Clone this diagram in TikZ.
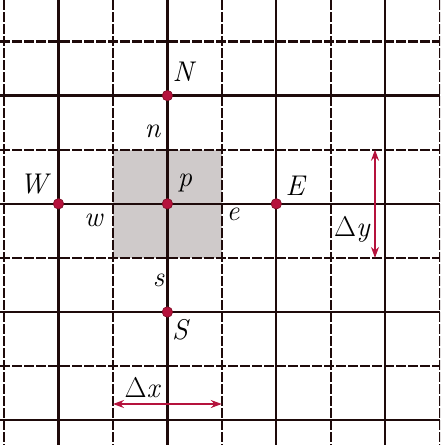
\documentclass[tikz,border=0pt]{standalone}
\usetikzlibrary{arrows.meta}
\definecolor{gridc}{HTML}{1E0A0A}
\definecolor{redc}{HTML}{B5123C}
\definecolor{reddark}{HTML}{7A0A22}
\definecolor{cellc}{HTML}{CFCACA}
\begin{document}
\begin{tikzpicture}[x=1pt,y=-1pt,
  solidline/.style={draw=gridc,line width=2.3pt},
  dashline/.style={draw=gridc,line width=2.2pt,dash pattern=on 10pt off 2pt},
  dot/.style={circle,fill=redc,draw=reddark,line width=0.6pt,inner sep=0pt,minimum size=10.5pt},
  lbl/.style={inner sep=0pt,font=\fontsize{28.5}{32}\selectfont\itshape},
  meas/.style={draw=redc,line width=1.5pt,{Stealth[length=11pt,width=8pt]}-{Stealth[length=11pt,width=8pt]}}
]
\useasboundingbox (0,0) rectangle (440,445);
\begin{scope}
\clip (0,0) rectangle (440,445);
% control volume
\fill[cellc] (113,149.7) rectangle (221.8,257.9);
% dashed face lines
\foreach \x in {4,113,221.8,330.7,439.6} \draw[dashline] (\x,0) -- (\x,445);
\foreach \y in {41.5,149.7,257.9,366.1} \draw[dashline] (0,\y) -- (440,\y);
% solid grid lines
\foreach \x in {58.5,167.4,276.3,385.2} \draw[solidline] (\x,0) -- (\x,445);
\foreach \y in {95.6,203.8,312,420.2} \draw[solidline] (0,\y) -- (440,\y);
\end{scope}
% nodes
\node[dot] (P) at (167.4,203.8) {};
\node[dot] (N) at (167.4,95.6) {};
\node[dot] (S) at (167.4,312) {};
\node[dot] (W) at (58.5,203.8) {};
\node[dot] (E) at (276.3,203.8) {};
% labels
\node[lbl] (lN) at (183,72) {N};
\node[lbl] (ln) at (152.5,131) {n};
\node[lbl] (lW) at (33.5,184) {W};
\node[lbl] (lw) at (93.5,220) {w};
\node[lbl] (lp) at (185,183) {p};
\node[lbl] (le) at (233,214) {e};
\node[lbl] (lE) at (295,186) {E};
\node[lbl] (ls) at (158.5,280) {s};
\node[lbl] (lS) at (180,330) {S};
% measures
\coordinate (dxa) at (113,404);
\coordinate (dxb) at (221.8,404);
\coordinate (dya) at (375,149.7);
\coordinate (dyb) at (375,257.9);
\draw[meas] (dxa) -- (dxb);
\draw[meas] (dya) -- (dyb);
\node[lbl] (ldx) at (142,388) {{\upshape Δ}x};
\node[lbl] (ldy) at (352,229) {{\upshape Δ}y};
\end{tikzpicture}
\end{document}
